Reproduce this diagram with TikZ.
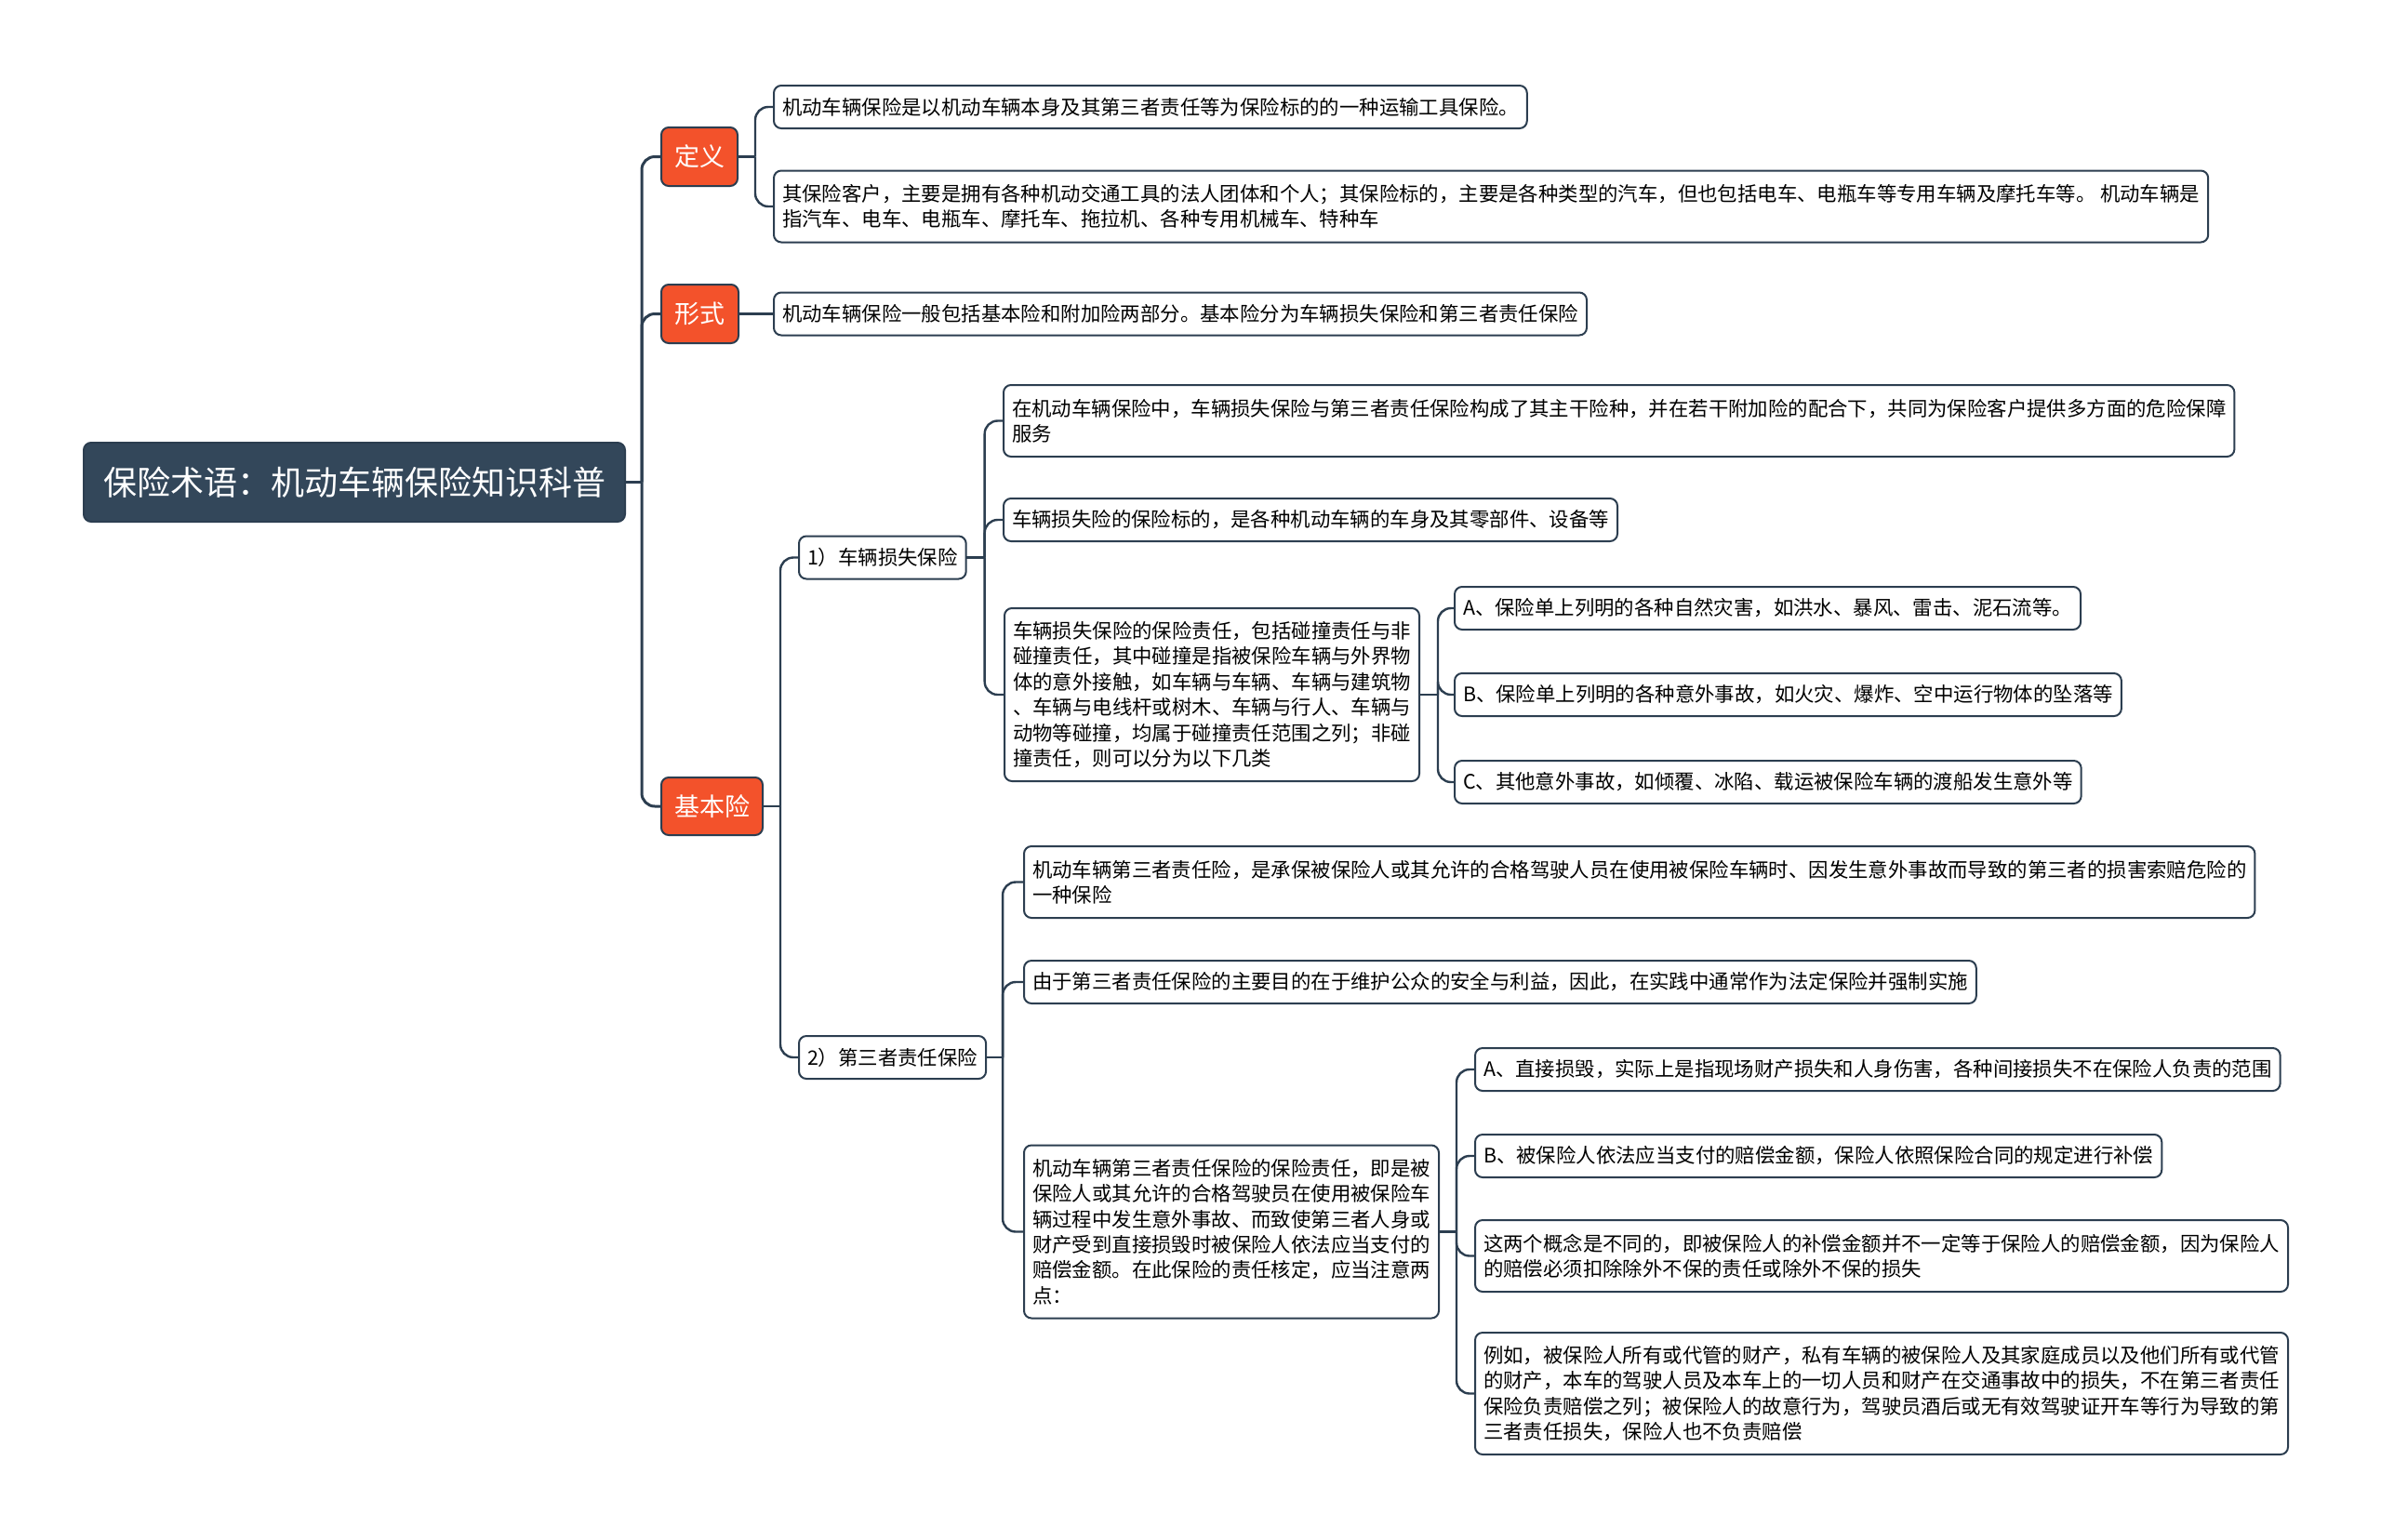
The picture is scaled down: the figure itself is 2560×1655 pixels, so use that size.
\documentclass[tikz,border=0pt]{standalone}
\usepackage{fontspec}
\newfontfamily\cjk{Noto Sans CJK SC}
\definecolor{linec}{HTML}{2C3E50}
\definecolor{rootc}{HTML}{33475A}
\definecolor{orangec}{HTML}{F3522B}
\begin{document}
\begin{tikzpicture}[x=0.5pt,y=-0.5pt,
  conn/.style={draw=linec, line width=1.2pt, rounded corners=7pt},
  trunkconn/.style={draw=linec, line width=1.5pt, rounded corners=7pt},
  rootbox/.style={draw=linec, line width=1pt, fill=rootc, rounded corners=4pt, text=white,
    font=\cjk\fontsize{18}{22}\selectfont, minimum width=291pt, minimum height=42.5pt,
    inner sep=0pt, outer sep=0pt},
  catbox/.style={draw=linec, line width=1pt, fill=orangec, rounded corners=4pt, text=white,
    font=\cjk\fontsize{13.5}{16}\selectfont, minimum height=31.5pt, inner sep=0pt, outer sep=0pt},
  leaf/.style={draw=linec, line width=1pt, fill=white, rounded corners=4pt,
    font=\cjk\fontsize{10.7}{13.7}\selectfont, align=left, anchor=west,
    inner xsep=4.5pt, inner ysep=2pt, minimum height=23pt, outer sep=0pt},
  leaftwo/.style={leaf, minimum height=38.5pt},
  leaffour/.style={leaf, minimum height=65.5pt},
  leafsix/.style={leaf, minimum height=93pt},
]
\fill[white] (0,0) rectangle (2560,1655);
\useasboundingbox (0,0) rectangle (2560,1655);

% root and categories
\node[rootbox] (root) at (381,518.5) {保险术语：机动车辆保险知识科普};
\node[catbox, minimum width=41pt] (def) at (752,168.5) {定义};
\node[catbox, minimum width=41.5pt] (form) at (752.5,337.5) {形式};
\node[catbox, minimum width=54.5pt, minimum height=31pt] (basic) at (765.5,867) {基本险};

% definition leaves
\node[leaf] (d1) at (832,115) {机动车辆保险是以机动车辆本身及其第三者责任等为保险标的的一种运输工具保险。};
\node[leaftwo] (d2) at (832,222) {其保险客户，主要是拥有各种机动交通工具的法人团体和个人；其保险标的，主要是各种类型的汽车，但也包括电车、电瓶车等专用车辆及摩托车等。 机动车辆是\\指汽车、电车、电瓶车、摩托车、拖拉机、各种专用机械车、特种车};

% form leaf
\node[leaf] (f1) at (832,337.5) {机动车辆保险一般包括基本险和附加险两部分。基本险分为车辆损失保险和第三者责任保险};

% basic children
\node[leaf] (l1) at (859,599.5) {1）车辆损失保险};
\node[leaf] (l2) at (859,1137) {2）第三者责任保险};

% vehicle loss leaves
\node[leaftwo] (l1a) at (1079,452.5) {在机动车辆保险中，车辆损失保险与第三者责任保险构成了其主干险种，并在若干附加险的配合下，共同为保险客户提供多方面的危险保障\\服务};
\node[leaf] (l1b) at (1079,559) {车辆损失险的保险标的，是各种机动车辆的车身及其零部件、设备等};
\node[leafsix] (l1c) at (1080,747) {车辆损失保险的保险责任，包括碰撞责任与非\\碰撞责任，其中碰撞是指被保险车辆与外界物\\体的意外接触，如车辆与车辆、车辆与建筑物\\、车辆与电线杆或树木、车辆与行人、车辆与\\动物等碰撞，均属于碰撞责任范围之列；非碰\\撞责任，则可以分为以下几类};
\node[leaf] (ca) at (1564,654) {A、保险单上列明的各种自然灾害，如洪水、暴风、雷击、泥石流等。};
\node[leaf] (cb) at (1564,747) {B、保险单上列明的各种意外事故，如火灾、爆炸、空中运行物体的坠落等};
\node[leaf] (cc) at (1564,841) {C、其他意外事故，如倾覆、冰陷、载运被保险车辆的渡船发生意外等};

% third party leaves
\node[leaftwo] (ta) at (1101,948.5) {机动车辆第三者责任险，是承保被保险人或其允许的合格驾驶人员在使用被保险车辆时、因发生意外事故而导致的第三者的损害索赔危险的\\一种保险};
\node[leaf] (tb) at (1101,1056) {由于第三者责任保险的主要目的在于维护公众的安全与利益，因此，在实践中通常作为法定保险并强制实施};
\node[leafsix] (tc) at (1101,1324.5) {机动车辆第三者责任保险的保险责任，即是被\\保险人或其允许的合格驾驶员在使用被保险车\\辆过程中发生意外事故、而致使第三者人身或\\财产受到直接损毁时被保险人依法应当支付的\\赔偿金额。在此保险的责任核定，应当注意两\\点：};
\node[leaf] (sa) at (1586,1150) {A、直接损毁，实际上是指现场财产损失和人身伤害，各种间接损失不在保险人负责的范围};
\node[leaf] (sb) at (1586,1243) {B、被保险人依法应当支付的赔偿金额，保险人依照保险合同的规定进行补偿};
\node[leaftwo] (sc) at (1586,1350.5) {这两个概念是不同的，即被保险人的补偿金额并不一定等于保险人的赔偿金额，因为保险人\\的赔偿必须扣除除外不保的责任或除外不保的损失};
\node[leaffour] (sd) at (1586,1498.5) {例如，被保险人所有或代管的财产，私有车辆的被保险人及其家庭成员以及他们所有或代管\\的财产，本车的驾驶人员及本车上的一切人员和财产在交通事故中的损失，不在第三者责任\\保险负责赔偿之列；被保险人的故意行为，驾驶员酒后或无有效驾驶证开车等行为导致的第\\三者责任损失，保险人也不负责赔偿};

% connectors
\draw[trunkconn] (root.east) -- ++(18,0) coordinate (t0);
\draw[trunkconn] (t0) |- (def.west);
\draw[trunkconn] (t0) |- (form.west);
\draw[trunkconn] (t0) |- (basic.west);

\draw[conn] (def.east) -- ++(19,0) coordinate (d0);
\draw[conn] (d0) |- (d1.west);
\draw[conn] (d0) |- (d2.west);

\draw[conn] (form.east) -- (f1.west);

\draw[conn] (basic.east) -- ++(19,0) coordinate (b0);
\draw[conn] (b0) |- (l1.west);
\draw[conn] (b0) |- (l2.west);

\draw[conn] (l1.east) -- ++(20,0) coordinate (p0);
\draw[conn] (p0) |- (l1a.west);
\draw[conn] (p0) |- (l1b.west);
\draw[conn] (p0) |- (l1c.west);

\draw[conn] (l1c.east) -- ++(20,0) coordinate (q0);
\draw[conn] (q0) |- (ca.west);
\draw[conn] (q0) |- (cb.west);
\draw[conn] (q0) |- (cc.west);

\draw[conn] (l2.east) -- ++(18,0) coordinate (r0);
\draw[conn] (r0) |- (ta.west);
\draw[conn] (r0) |- (tb.west);
\draw[conn] (r0) |- (tc.west);

\draw[conn] (tc.east) -- ++(19,0) coordinate (s0);
\draw[conn] (s0) |- (sa.west);
\draw[conn] (s0) |- (sb.west);
\draw[conn] (s0) |- (sc.west);
\draw[conn] (s0) |- (sd.west);
\end{tikzpicture}
\end{document}
